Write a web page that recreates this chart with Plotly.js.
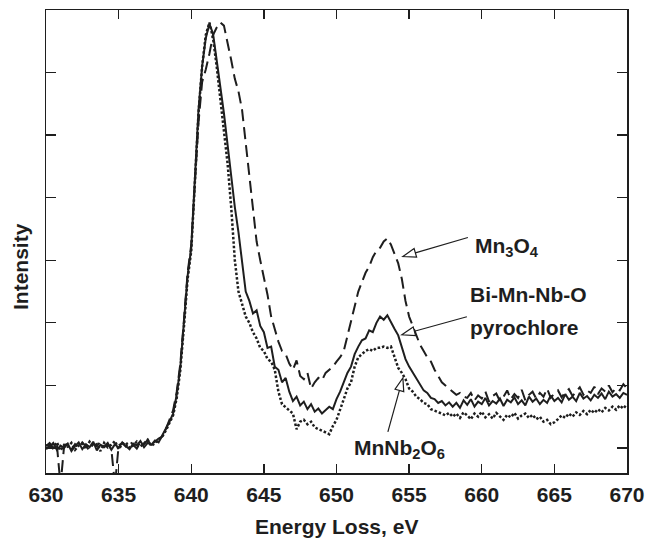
<!DOCTYPE html>
<html>
<head>
<meta charset="utf-8">
<script src="https://cdn.plot.ly/plotly-3.0.1.min.js"></script>
<style>html,body{margin:0;padding:0;background:#fff}#chart{width:645px;height:539px}</style>
</head>
<body>
<div id="chart"></div>
<script>
// Energy loss axis (eV)
var energy = [
630,630.25,630.5,630.75,631,631.25,631.5,631.75,632,632.25,632.5,632.75,633,633.25,633.5,633.75,
634,634.25,634.5,634.75,635,635.25,635.5,635.75,636,636.25,636.5,636.75,637,637.25,637.5,637.75,
638,638.25,638.5,638.75,639,639.25,639.5,639.75,640,640.25,640.5,640.75,641,641.25,641.5,641.75,
642,642.25,642.5,642.75,643,643.25,643.5,643.75,644,644.25,644.5,644.75,645,645.25,645.5,645.75,
646,646.25,646.5,646.75,647,647.25,647.5,647.75,648,648.25,648.5,648.75,649,649.25,649.5,649.75,
650,650.25,650.5,650.75,651,651.25,651.5,651.75,652,652.25,652.5,652.75,653,653.25,653.5,653.75,
654,654.25,654.5,654.75,655,655.25,655.5,655.75,656,656.25,656.5,656.75,657,657.25,657.5,657.75,
658,658.25,658.5,658.75,659,659.25,659.5,659.75,660,660.25,660.5,660.75,661,661.25,661.5,661.75,
662,662.25,662.5,662.75,663,663.25,663.5,663.75,664,664.25,664.5,664.75,665,665.25,665.5,665.75,
666,666.25,666.5,666.75,667,667.25,667.5,667.75,668,668.25,668.5,668.75,669,669.25,669.5,669.75,
670];

// Bi-Mn-Nb-O pyrochlore (solid)
var pyrochlore = [
0.05,0.02,0.08,-0.03,0.04,0.00,0.07,-0.05,0.03,0.09,-0.02,0.06,0.01,0.10,-0.04,0.05,
0.02,0.08,-0.03,0.06,0.00,0.09,0.03,-0.02,0.07,0.04,0.11,0.01,0.08,0.05,0.12,0.09,
0.20,0.30,0.42,0.55,0.85,1.30,2.00,2.75,3.20,4.40,5.40,6.10,6.55,6.78,6.62,6.20,
5.80,5.35,4.85,4.30,3.85,3.45,2.95,2.50,2.35,2.15,2.20,1.95,1.85,1.60,1.62,1.30,
1.25,1.05,1.12,0.90,0.75,0.82,0.68,0.74,0.62,0.70,0.58,0.63,0.55,0.60,0.66,0.62,
0.78,0.90,1.05,1.20,1.30,1.50,1.62,1.72,1.75,1.88,1.85,2.00,2.10,2.05,2.12,2.00,
1.90,1.80,1.62,1.42,1.30,1.20,1.10,1.02,0.92,0.88,0.80,0.78,0.72,0.75,0.68,0.73,
0.66,0.72,0.64,0.76,0.69,0.78,0.66,0.74,0.70,0.80,0.68,0.75,0.71,0.79,0.67,0.77,
0.73,0.81,0.70,0.76,0.68,0.82,0.74,0.79,0.70,0.77,0.72,0.84,0.75,0.80,0.73,0.86,
0.77,0.82,0.75,0.88,0.79,0.83,0.76,0.85,0.80,0.87,0.78,0.90,0.82,0.86,0.80,0.88,
0.85];

// MnNb2O6 (dotted)
var mnnb2o6 = [
-0.02,0.06,0.01,0.09,-0.04,0.05,0.02,0.08,-0.03,0.04,0.07,-0.01,0.10,0.03,0.06,-0.05,
0.08,0.01,0.05,0.11,-0.02,0.06,0.09,0.00,0.04,0.10,0.02,0.07,0.13,0.03,0.08,0.14,
0.18,0.28,0.40,0.52,0.80,1.25,1.95,2.70,3.15,4.35,5.35,6.10,6.60,6.80,6.55,6.10,
5.60,5.05,4.55,3.85,3.00,2.50,2.30,2.10,2.00,1.85,1.75,1.60,1.55,1.42,1.38,1.25,
0.90,0.70,0.65,0.60,0.55,0.30,0.42,0.45,0.38,0.42,0.33,0.30,0.28,0.25,0.22,0.35,
0.45,0.60,0.78,0.95,1.05,1.30,1.45,1.50,1.55,1.58,1.55,1.60,1.60,1.62,1.60,1.62,
1.45,1.28,1.20,1.10,0.95,0.90,0.82,0.78,0.72,0.70,0.62,0.60,0.58,0.55,0.52,0.56,
0.50,0.55,0.48,0.57,0.52,0.46,0.55,0.50,0.58,0.49,0.54,0.47,0.56,0.51,0.45,0.53,
0.49,0.56,0.47,0.52,0.55,0.48,0.53,0.46,0.50,0.42,0.45,0.38,0.41,0.46,0.52,0.48,
0.55,0.50,0.57,0.53,0.59,0.54,0.61,0.56,0.62,0.57,0.64,0.60,0.66,0.61,0.68,0.63,
0.70];

// Mn3O4 (dashed)
var mn3o4 = [
0.03,0.08,-0.02,0.05,-0.60,0.04,0.07,-0.03,0.06,0.00,0.09,0.02,-0.04,0.07,0.03,0.10,
0.01,0.06,-0.02,-0.60,0.04,0.08,0.02,0.11,0.05,-0.01,0.09,0.06,0.13,0.04,0.10,0.15,
0.18,0.30,0.45,0.60,0.90,1.35,2.05,2.80,3.25,4.30,5.20,5.85,6.05,6.30,6.60,6.72,
6.80,6.75,6.50,6.20,5.90,5.70,5.40,4.90,4.40,3.90,3.30,3.00,2.75,2.45,2.10,1.90,
1.70,1.55,1.50,1.35,1.25,1.40,1.15,1.10,1.20,0.95,1.05,1.12,1.08,1.20,1.25,1.30,
1.38,1.45,1.55,1.80,2.05,2.25,2.50,2.65,2.80,2.90,3.05,3.15,3.20,3.30,3.35,3.25,
3.10,2.95,2.70,2.35,2.10,1.95,1.78,1.65,1.55,1.45,1.38,1.25,1.15,1.05,1.00,0.95,
0.90,0.85,0.88,0.82,0.80,0.88,0.76,0.84,0.79,0.90,0.74,0.83,0.87,0.75,0.82,0.92,
0.78,0.86,0.80,0.93,0.76,0.85,0.90,0.79,0.88,0.82,0.95,0.80,0.87,0.92,0.81,0.89,
0.94,0.83,0.90,0.97,0.85,0.92,0.88,0.98,0.86,0.95,0.90,1.00,0.89,0.96,0.92,1.02,
0.95];

var xTicks = [630,635,640,645,650,655,660,665,670];
var yTicks = [0,1,2,3,4,5,6,7];

var FONT = 'Liberation Sans, Arial, Helvetica, sans-serif';
var INK = '#1e1e1e';
var FS = 21;

var traces = [
  {x: energy, y: mn3o4, mode: 'lines', name: 'Mn3O4',
   line: {color: INK, width: 2, dash: '12px,6px'}},
  {x: energy, y: mnnb2o6, mode: 'lines', name: 'MnNb2O6',
   line: {color: INK, width: 2.5, dash: '2.5px,2px'}},
  {x: energy, y: pyrochlore, mode: 'lines', name: 'Bi-Mn-Nb-O pyrochlore',
   line: {color: INK, width: 2}}
];

function arrowShape(hx, hy, dx, dy) {
  // dx, dy: tail offset in pixels (dy positive = up)
  var L = Math.sqrt(dx*dx + dy*dy), ux = dx/L, uy = dy/L, px = -uy, py = ux;
  var hl = 13, hw = 4.5;
  var bx = ux*hl, by = uy*hl;
  var p = 'M' + bx + ',' + by + ' L' + dx + ',' + dy +
          ' M0,0 L' + (bx + px*hw) + ',' + (by + py*hw) + ' L' + (bx - px*hw) + ',' + (by - py*hw) + ' Z';
  return {type: 'path', xref: 'x', yref: 'y', xsizemode: 'pixel', ysizemode: 'pixel',
          xanchor: hx, yanchor: hy, path: p, fillcolor: '#ffffff',
          line: {color: INK, width: 1.2}};
}

function txtFont() { return {family: FONT, size: FS, color: INK, weight: 'bold'}; }

var layout = {
  width: 645, height: 539,
  margin: {l: 46, r: 18, t: 10, b: 66},
  paper_bgcolor: '#ffffff', plot_bgcolor: '#ffffff',
  showlegend: false,
  font: txtFont(),
  xaxis: {range: [630, 670], tickvals: xTicks, ticktext: xTicks.map(String),
          ticks: 'inside', ticklen: 9, tickwidth: 1.3, tickcolor: INK,
          showline: true, linecolor: INK, linewidth: 1.5, mirror: 'ticks',
          showgrid: false, zeroline: false, ticklabelstandoff: 2,
          tickfont: txtFont()},
  yaxis: {range: [-0.4, 7], tickvals: yTicks, showticklabels: false,
          ticks: 'inside', ticklen: 10, tickwidth: 1.3, tickcolor: INK,
          showline: true, linecolor: INK, linewidth: 1.5, mirror: 'ticks',
          showgrid: false, zeroline: false},
  shapes: [
    arrowShape(654.57, 3.06, 65, 19),
    arrowShape(654.50, 1.81, 65, 18),
    arrowShape(654.57, 1.12, -15, -54)
  ],
  annotations: [
    {xref: 'paper', yref: 'paper', x: 0.5, y: -0.115, text: 'Energy Loss, eV',
     showarrow: false, xanchor: 'center', yanchor: 'middle', font: txtFont()},
    {xref: 'paper', yref: 'paper', x: -0.043, y: 0.445, text: 'Intensity', textangle: -90,
     showarrow: false, xanchor: 'center', yanchor: 'middle', font: txtFont()},
    {xref: 'x', yref: 'y', x: 659.39, y: 3.22, text: 'Mn<sub>3</sub>O<sub>4</sub>',
     showarrow: false, xanchor: 'left', yanchor: 'middle', font: txtFont()},
    {xref: 'x', yref: 'y', x: 659.04, y: 2.46, text: 'Bi-Mn-Nb-O',
     showarrow: false, xanchor: 'left', yanchor: 'middle', font: txtFont()},
    {xref: 'x', yref: 'y', x: 659.04, y: 1.92, text: 'pyrochlore',
     showarrow: false, xanchor: 'left', yanchor: 'middle', font: txtFont()},
    {xref: 'x', yref: 'y', x: 651.06, y: -0.02, text: 'MnNb<sub>2</sub>O<sub>6</sub>',
     showarrow: false, xanchor: 'left', yanchor: 'middle', font: txtFont()}
  ]
};

Plotly.newPlot('chart', traces, layout, {displayModeBar: false, staticPlot: true});
</script>
</body>
</html>
